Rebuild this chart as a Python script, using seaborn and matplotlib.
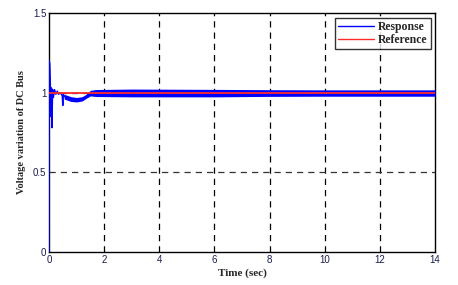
import matplotlib
matplotlib.use("Agg")
import matplotlib.pyplot as plt
import seaborn as sns
import pandas as pd

# Transient part of the response
resp_t = [0, 0.01, 0.03, 0.05, 0.07, 0.09, 0.11, 0.13, 0.16, 0.2, 0.25, 0.3, 0.35,
          0.4, 0.45, 0.48, 0.5, 0.52, 0.55, 0.6, 0.7, 0.8, 0.9, 1.0, 1.1, 1.2,
          1.3, 1.4, 1.5, 1.6, 14]
resp_v = [0, 1.2, 1.18, 1.05, 0.85, 1.03, 0.78, 1.02, 0.97, 1.02, 0.99, 1.01, 0.99,
          1.0, 0.99, 0.98, 0.92, 0.99, 0.98, 0.97, 0.965, 0.96, 0.955, 0.955, 0.955, 0.96,
          0.97, 0.985, 1.0, 1.0, 1.0]

# Envelope of the ripple band of the response
band_t = [0.55, 0.8, 1.0, 1.2, 1.35, 1.5, 1.7, 3, 6, 8, 10, 14]
band_hi = [0.99, 0.975, 0.97, 0.975, 0.99, 1.015, 1.02, 1.023, 1.021, 1.019, 1.018, 1.018]
band_lo = [0.96, 0.945, 0.942, 0.948, 0.965, 0.98, 0.976, 0.974, 0.974, 0.977, 0.978, 0.978]

ref_t = [0, 14]
ref_v = [1.0, 1.0]

x_ticks = [0, 2, 4, 6, 8, 10, 12, 14]
y_ticks = [0, 0.5, 1, 1.5]

sns.set_style("white")

fig = plt.figure(figsize=(4.58, 2.85), dpi=100)
ax = fig.add_axes([0.107, 0.116, 0.843, 0.838])

df_resp = pd.DataFrame({"t": resp_t, "v": resp_v})
df_ref = pd.DataFrame({"t": ref_t, "v": ref_v})

ax.fill_between(band_t, band_lo, band_hi, color="#0000ff", lw=0, zorder=3)
sns.lineplot(data=df_resp, x="t", y="v", ax=ax, color="#0000ff", lw=1.0,
             label="Response", zorder=4, estimator=None, sort=False)
sns.lineplot(data=df_ref, x="t", y="v", ax=ax, color="#ff2a2a", lw=1.3,
             label="Reference", zorder=5, estimator=None, sort=False)

ax.set_xlim(0, 14)
ax.set_ylim(0, 1.5)
ax.set_xticks(x_ticks)
ax.set_xticklabels([str(v) for v in x_ticks])
ax.set_yticks(y_ticks)
ax.set_yticklabels(["0", "0.5", "1", "1.5"])

for xv in x_ticks[1:-1]:
    ax.axvline(xv, color="black", lw=0.9, ls=(0, (5, 4)), zorder=1)
for yv in [0.5, 1.0]:
    ax.axhline(yv, color="#333333", lw=0.9, ls=(0, (5, 4)), zorder=1)

ax.tick_params(axis="both", direction="in", length=2, labelsize=7,
               pad=2, colors="black")
for lab in ax.get_xticklabels() + ax.get_yticklabels():
    lab.set_family("Liberation Sans")
    lab.set_color("#1c1c50")
for s in ax.spines.values():
    s.set_color("black")
    s.set_linewidth(1.0)

ax.set_xlabel("Time (sec)", family="Liberation Serif", fontweight="bold",
              fontsize=8, labelpad=3)
ax.set_ylabel("Voltage variation of DC Bus", family="Liberation Serif",
              fontweight="bold", fontsize=7.5, labelpad=5)

leg = ax.legend(loc="upper right", bbox_to_anchor=(0.995, 0.99),
                prop={"family": "Liberation Serif", "weight": "bold", "size": 8.5},
                frameon=True, fancybox=False, handlelength=3.0, handletextpad=0.4,
                borderpad=0.25, labelspacing=0.12, borderaxespad=0.2)
leg.get_frame().set_edgecolor("black")
leg.get_frame().set_linewidth(1.0)
for line in leg.get_lines():
    line.set_linewidth(1.0)

fig.savefig("out.png", dpi=100)
